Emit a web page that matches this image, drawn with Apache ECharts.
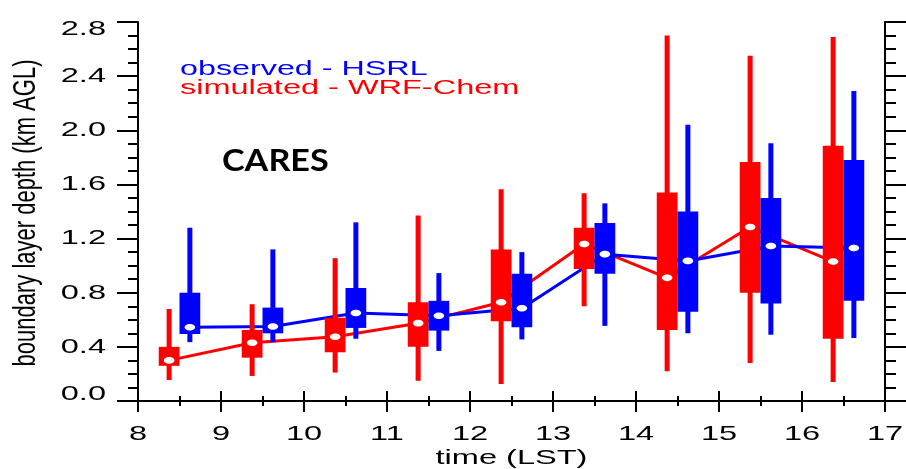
<!DOCTYPE html>
<html>
<head>
<meta charset="utf-8">
<script src="https://cdn.jsdelivr.net/npm/echarts@6/dist/echarts.min.js"></script>
<style>html,body{margin:0;padding:0;background:#fff}#c{width:906px;height:469px}</style>
</head>
<body>
<div id="c"></div>
<script>
// hours (LST)
var hours = [8, 9, 10, 11, 12, 13, 14, 15, 16];
// observed - HSRL : [min, q1, median, q3, max]
var obsMin = [0.435, 0.435, 0.46, 0.37, 0.455, 0.555, 0.50, 0.49, 0.465];
var obsQ1  = [0.495, 0.50, 0.54, 0.52, 0.545, 0.94, 0.66, 0.72, 0.74];
var obsMed = [0.545, 0.55, 0.65, 0.63, 0.685, 1.085, 1.035, 1.145, 1.13];
var obsQ3  = [0.80, 0.69, 0.835, 0.74, 0.94, 1.315, 1.40, 1.50, 1.78];
var obsMax = [1.28, 1.12, 1.32, 0.945, 1.10, 1.46, 2.04, 1.905, 2.29];
// simulated - WRF-Chem : [min, q1, median, q3, max]
var simMin = [0.155, 0.185, 0.21, 0.15, 0.125, 0.70, 0.22, 0.28, 0.14];
var simQ1  = [0.26, 0.32, 0.36, 0.40, 0.59, 0.975, 0.525, 0.80, 0.46];
var simMed = [0.30, 0.43, 0.475, 0.575, 0.73, 1.16, 0.91, 1.285, 1.03];
var simQ3  = [0.40, 0.525, 0.615, 0.73, 1.12, 1.28, 1.54, 1.765, 1.885];
var simMax = [0.68, 0.715, 1.055, 1.37, 1.565, 1.535, 2.70, 2.55, 2.69];
// tick labels
var xTicks = [8, 9, 10, 11, 12, 13, 14, 15, 16, 17];
var yTicks = [0, 0.4, 0.8, 1.2, 1.6, 2.0, 2.4, 2.8];

var RED = '#ff0000', BLUE = '#0000ff';
var SIM_OFF = 0.375, OBS_OFF = 0.625, BOX_W = 0.25;

function boxData(off, mn, q1, md, q3, mx) {
  return hours.map(function (h, i) { return [h + off, mn[i], q1[i], md[i], q3[i], mx[i]]; });
}
function lineData(off, md) {
  return hours.map(function (h, i) { return [h + off, md[i]]; });
}
function makeRender(color) {
  return function (params, api) {
    var x = api.value(0);
    var lo = api.coord([x, api.value(1)]);
    var q1 = api.coord([x, api.value(2)]);
    var md = api.coord([x, api.value(3)]);
    var q3 = api.coord([x, api.value(4)]);
    var hi = api.coord([x, api.value(5)]);
    var w = api.size([BOX_W, 0])[0];
    return {
      type: 'group',
      children: [
        {type: 'line', shape: {x1: lo[0], y1: lo[1], x2: hi[0], y2: hi[1]}, style: {stroke: color, lineWidth: 5}},
        {type: 'rect', shape: {x: q1[0] - w / 2, y: q3[1], width: w, height: q1[1] - q3[1]}, style: {fill: color}},
        {type: 'ellipse', shape: {cx: md[0], cy: md[1], rx: 5.3, ry: 3.3}, style: {fill: '#ffffff'}}
      ]
    };
  };
}

var chart = echarts.init(document.getElementById('c'), null, {renderer: 'canvas'});
var tickStyle = {color: '#000', width: 2};
var xMin = xTicks[0], xMax = xTicks[xTicks.length - 1];
var yMin = yTicks[0], yMax = yTicks[yTicks.length - 1];

chart.setOption({
  animation: false,
  backgroundColor: '#fff',
  grid: {left: 138, right: 21, top: 22, bottom: 68},
  xAxis: [
    {type: 'value', position: 'bottom', min: xMin, max: xMax, interval: 1,
     axisLine: {lineStyle: {color: '#000', width: 2}},
     axisTick: {length: 11, lineStyle: tickStyle},
     minorTick: {show: true, splitNumber: 2, length: 5, lineStyle: tickStyle},
     splitLine: {show: false}, minorSplitLine: {show: false},
     axisLabel: {show: false}},
    {type: 'value', position: 'top', min: xMin, max: xMax, interval: 1,
     axisLine: {lineStyle: {color: '#000', width: 2}},
     axisTick: {length: 10, lineStyle: tickStyle},
     minorTick: {show: true, splitNumber: 2, length: 5, lineStyle: tickStyle},
     splitLine: {show: false}, axisLabel: {show: false}}
  ],
  yAxis: [
    {type: 'value', position: 'left', min: yMin, max: yMax, interval: 0.4,
     axisLine: {lineStyle: {color: '#000', width: 2}},
     axisTick: {length: 21, lineStyle: tickStyle},
     minorTick: {show: true, splitNumber: 4, length: 10, lineStyle: tickStyle},
     splitLine: {show: false}, minorSplitLine: {show: false},
     axisLabel: {show: false}},
    {type: 'value', position: 'right', min: yMin, max: yMax, interval: 0.4,
     axisLine: {lineStyle: {color: '#000', width: 2}},
     axisTick: {length: 21, lineStyle: tickStyle},
     minorTick: {show: true, splitNumber: 4, length: 11, lineStyle: tickStyle},
     splitLine: {show: false}, axisLabel: {show: false}}
  ],
  series: [
    {type: 'line', name: 'simulated - WRF-Chem', data: lineData(SIM_OFF, simMed), showSymbol: false, symbol: 'none',
     lineStyle: {color: RED, width: 3}, itemStyle: {color: RED}, z: 1},
    {type: 'line', name: 'observed - HSRL', data: lineData(OBS_OFF, obsMed), showSymbol: false, symbol: 'none',
     lineStyle: {color: BLUE, width: 3}, itemStyle: {color: BLUE}, z: 1},
    {type: 'custom', name: 'simulated box', data: boxData(SIM_OFF, simMin, simQ1, simMed, simQ3, simMax),
     renderItem: makeRender(RED), encode: {x: 0, y: [1, 2, 3, 4, 5]}, z: 3},
    {type: 'custom', name: 'observed box', data: boxData(OBS_OFF, obsMin, obsQ1, obsMed, obsQ3, obsMax),
     renderItem: makeRender(BLUE), encode: {x: 0, y: [1, 2, 3, 4, 5]}, z: 4}
  ]
});

// Tick labels and titles (the original figure is horizontally stretched, so text is widened with scaleX)
var FONT = '21px "Liberation Sans"';
var STRETCH = 1.55;
var graphics = [];
var axisY = chart.convertToPixel({xAxisIndex: 0}, xMin) !== undefined ? chart.convertToPixel({yAxisIndex: 0}, yMin) : 401;
var axisX = chart.convertToPixel({xAxisIndex: 0}, xMin);
xTicks.forEach(function (v) {
  graphics.push({type: 'text', x: chart.convertToPixel({xAxisIndex: 0}, v), y: axisY + 33, scaleX: STRETCH, z: 10,
    style: {text: String(v), fill: '#000', font: FONT, align: 'center', verticalAlign: 'middle'}});
});
yTicks.forEach(function (v) {
  var py = chart.convertToPixel({yAxisIndex: 0}, v);
  if (v === yMin) py -= 7;
  if (v === yMax) py += 7;
  graphics.push({type: 'text', x: axisX - 32, y: py, scaleX: STRETCH, z: 10,
    style: {text: v.toFixed(1), fill: '#000', font: FONT, align: 'right', verticalAlign: 'middle'}});
});
graphics.push(
  {type: 'text', x: 180, y: 70, scaleX: 1.64, z: 10,
   style: {text: 'observed - HSRL', fill: BLUE, font: '19.7px "Liberation Sans"', align: 'left', verticalAlign: 'middle'}},
  {type: 'text', x: 180, y: 88.5, scaleX: 1.65, z: 10,
   style: {text: 'simulated - WRF-Chem', fill: RED, font: '19.7px "Liberation Sans"', align: 'left', verticalAlign: 'middle'}},
  {type: 'text', x: 222, y: 161, scaleX: 1.14, z: 10,
   style: {text: 'CARES', fill: '#000', font: 'bold 30px Lato', align: 'left', verticalAlign: 'middle'}},
  {type: 'text', x: (axisX + chart.convertToPixel({xAxisIndex: 0}, xMax)) / 2, y: 458, scaleX: STRETCH, z: 10,
   style: {text: 'time (LST)', fill: '#000', font: FONT, align: 'center', verticalAlign: 'middle'}},
  {type: 'text', x: 27, y: 213, rotation: Math.PI / 2, scaleY: 1.4, z: 10,
   style: {text: 'boundary layer depth (km AGL)', fill: '#000', font: '22px "Liberation Sans"', align: 'center', verticalAlign: 'middle'}}
);
chart.setOption({graphic: graphics});
</script>
</body>
</html>
